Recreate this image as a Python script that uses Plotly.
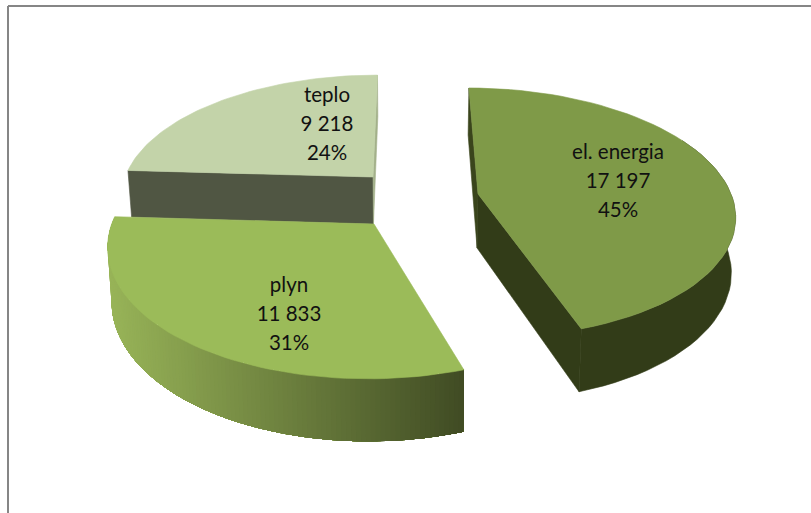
import math
import plotly.graph_objects as go

# --- data ---
categories = ["el. energia", "plyn", "teplo"]
values = [17197, 11833, 9218]
value_labels = ["17 197", "11 833", "9 218"]

# --- styling / geometry ---
TOP = {"el. energia": "#7f9a48", "plyn": "#9bbb59", "teplo": "#c3d3a9"}
apex_px = {"el. energia": (478, 194), "plyn": (374, 224), "teplo": (373, 177)}
label_px = {"el. energia": (618, 154), "plyn": (289, 287), "teplo": (327, 97)}
depth = {"el. energia": 54, "plyn": 51, "teplo": 48}
W, H = 811, 513
VX, VY, A, B, K, BOTTOM_SCALE = 408, 194, 253, 121.8, 0.149, 0.987
LINE_GAP = 28.7


def ground(px, py):
    d = py - VY
    v = d / (B + K * d)
    u = (px - VX) * (1 - K * v) / A
    return u, v


def project(u, v, drop=None):
    s = 1 / (1 - K * v)
    x = A * u * s
    y = VY + B * v * s
    if drop is not None:
        return VX + x * BOTTOM_SCALE, y + drop * s
    return VX + x, y


def lerp_colour(c1, c2, t):
    t = max(0, min(1, t))
    a = [int(c1[i:i + 2], 16) for i in (1, 3, 5)]
    b = [int(c2[i:i + 2], 16) for i in (1, 3, 5)]
    return "#" + "".join(f"{round(p + (q - p) * t):02x}" for p, q in zip(a, b))


fig = go.Figure()


def poly(points, colour, edge=0.6):
    xs = [p[0] for p in points] + [points[0][0]]
    ys = [p[1] for p in points] + [points[0][1]]
    fig.add_trace(go.Scatter(x=xs, y=ys, mode="lines", fill="toself", fillcolor=colour,
                             line=dict(color=colour, width=edge), hoverinfo="skip", showlegend=False))


total = sum(values)
spans = {}
angle = 0.0
for name, val in zip(categories, values):
    sweep = 360 * val / total
    spans[name] = (angle, angle + sweep)
    angle += sweep


def rim_point(name, deg, bottom=False):
    u0, v0 = ground(*apex_px[name])
    r = math.radians(deg)
    return project(u0 + math.sin(r), v0 - math.cos(r), depth[name] if bottom else None)


def apex(name, bottom=False):
    return project(*ground(*apex_px[name]), depth[name] if bottom else None)


def arc(name, steps=60):
    a0, a1 = spans[name]
    return [a0 + (a1 - a0) * i / steps for i in range(steps + 1)]


def cut_face(name, deg, colour):
    poly([apex(name), rim_point(name, deg), rim_point(name, deg, True), apex(name, True)], colour)


def top_face(name):
    poly([apex(name)] + [rim_point(name, d) for d in arc(name)], TOP[name])


# teplo (back)
t0, t1 = spans["teplo"]
cut_face("teplo", t0, "#505643")
cut_face("teplo", t1, "#a3b08a")
top_face("teplo")

# plyn (front left): rim shaded from its left end to its right end, far end first so
# that each band is overlapped by the next one and no seams show
degs = arc("plyn", 120)
xmin, xmax = 108, 466
for i in range(len(degs) - 1, 0, -1):
    d0 = degs[i]
    if d0 > 285:
        continue
    span_degs = [d for d in degs if d <= d0]
    outer = [rim_point("plyn", d) for d in span_degs]
    inner = [rim_point("plyn", d, True) for d in reversed(span_degs)]
    tt = (rim_point("plyn", d0)[0] - xmin) / (xmax - xmin)
    poly(outer + inner, lerp_colour("#98b458", "#3f4a23", tt), edge=0)
top_face("plyn")

# el. energia (right)
DARK = "#323c18"
cut_face("el. energia", spans["el. energia"][0], "#3a451c")
cut_face("el. energia", spans["el. energia"][1], DARK)
degs = [d for d in arc("el. energia", 60) if d >= 60]
poly([rim_point("el. energia", d) for d in degs] +
     [rim_point("el. energia", d, True) for d in reversed(degs)], DARK)
top_face("el. energia")

# data labels
for name, val, vlabel in zip(categories, values, value_labels):
    x0, y0 = label_px[name]
    lines = [name, vlabel, f"{round(100 * val / total)}%"]
    fig.add_trace(go.Scatter(x=[x0] * 3, y=[y0 + i * LINE_GAP for i in range(3)], mode="text",
                             text=lines, textposition="middle center",
                             textfont=dict(family="Lato, Carlito, sans-serif", size=20.5, color="#111111"),
                             hoverinfo="skip", showlegend=False))

fig.update_layout(
    width=W, height=H, autosize=False,
    margin=dict(l=0, r=0, t=0, b=0),
    paper_bgcolor="white", plot_bgcolor="white",
    xaxis=dict(range=[0, W], visible=False, fixedrange=True),
    yaxis=dict(range=[H, 0], visible=False, fixedrange=True),
    shapes=[
        dict(type="line", xref="x", yref="y", x0=8, y0=6, x1=W, y1=6, line=dict(color="#868686", width=2)),
        dict(type="line", xref="x", yref="y", x0=8, y0=6, x1=8, y1=H, line=dict(color="#868686", width=2)),
    ],
)
fig.write_html("out.html", config={"displayModeBar": False},
               post_script="document.body.style.margin='0';")
